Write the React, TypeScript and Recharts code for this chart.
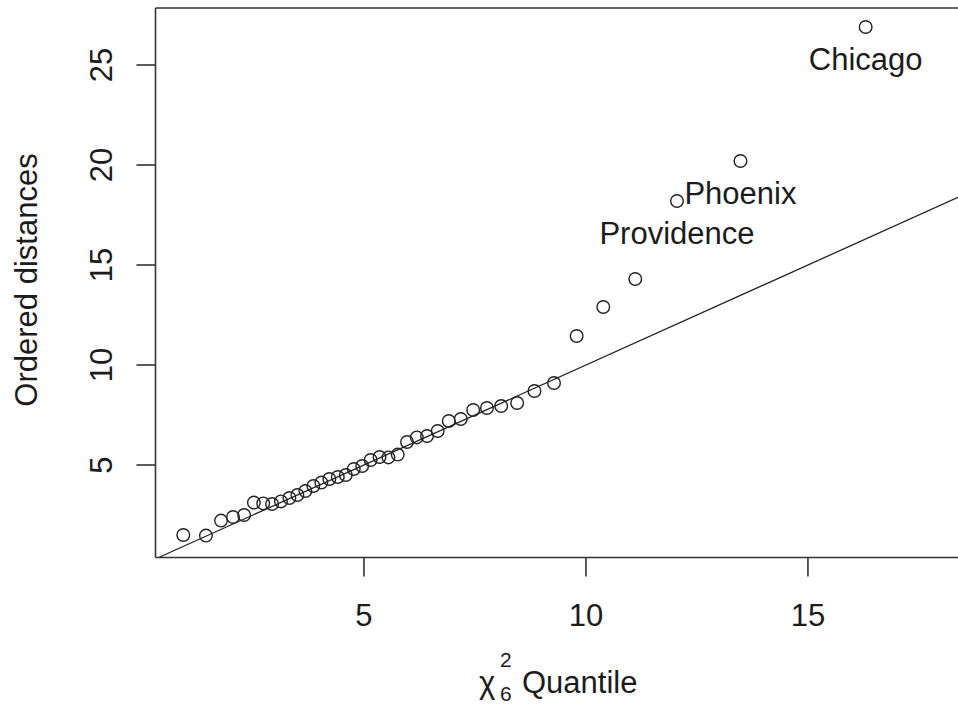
import { ScatterChart, Scatter, XAxis, YAxis, ReferenceLine } from "recharts";

// chi-square (6 df) quantiles vs ordered generalised distances, 41 cities
const QUANTILES = [
  0.93, 1.44, 1.78, 2.05, 2.3, 2.52, 2.73, 2.93, 3.13, 3.32, 3.5, 3.68, 3.86, 4.04,
  4.22, 4.41, 4.59, 4.77, 4.96, 5.15, 5.35, 5.55, 5.76, 5.97, 6.19, 6.42, 6.66, 6.91,
  7.18, 7.46, 7.77, 8.09, 8.45, 8.84, 9.28, 9.79, 10.39, 11.11, 12.05, 13.48, 16.3,
];
const DISTANCES = [
  1.5, 1.47, 2.22, 2.4, 2.5, 3.12, 3.08, 3.05, 3.18, 3.35, 3.5, 3.7, 3.95, 4.12,
  4.3, 4.4, 4.5, 4.8, 4.95, 5.25, 5.4, 5.38, 5.52, 6.15, 6.38, 6.45, 6.7, 7.2,
  7.3, 7.75, 7.85, 7.95, 8.1, 8.7, 9.1, 11.45, 12.9, 14.3, 18.2, 20.2, 26.9,
];
// labels for the three largest distances (drawn under the point)
const OUTLIER_LABELS = ["Providence", "Phoenix", "Chicago"];

const X_TICKS = [5, 10, 15];
const Y_TICKS = [5, 10, 15, 20, 25];
const X_DOMAIN = [0.304, 18.38];
const Y_DOMAIN = [0.375, 27.85];
const ABLINE = { intercept: 0, slope: 1 };

const FONT = "'Liberation Sans', Arial, sans-serif";
const INK = "#1c1c1c";

const data = QUANTILES.map((x, i) => {
  const k = i - (QUANTILES.length - OUTLIER_LABELS.length);
  return { x, y: DISTANCES[i], label: k >= 0 ? OUTLIER_LABELS[k] : null };
});

const x0 = Math.max(X_DOMAIN[0], (Y_DOMAIN[0] - ABLINE.intercept) / ABLINE.slope);
const x1 = X_DOMAIN[1];
const lineSeg = [
  { x: x0, y: ABLINE.intercept + ABLINE.slope * x0 },
  { x: x1, y: ABLINE.intercept + ABLINE.slope * x1 },
];

function OpenCircle(props: any) {
  const { cx, cy, payload } = props;
  return (
    <g>
      <circle cx={cx} cy={cy} r={6.3} fill="none" stroke="#222" strokeWidth={1.4} />
      {payload.label && (
        <text x={cx} y={cy + 43} textAnchor="middle" fontFamily={FONT} fontSize={31} fill={INK}>
          {payload.label}
        </text>
      )}
    </g>
  );
}

function YTick(props: any) {
  const { y, payload } = props;
  return (
    <text
      transform={`translate(112, ${y}) rotate(-90)`}
      textAnchor="middle"
      fontFamily={FONT}
      fontSize={31}
      fill={INK}
    >
      {payload.value}
    </text>
  );
}

function XLabel() {
  return (
    <g fontFamily={FONT} fill={INK}>
      <text x={479} y={693} fontSize={31}>χ</text>
      <text x={500} y={667} fontSize={21}>2</text>
      <text x={500} y={701} fontSize={21}>6</text>
      <text x={522} y={693} fontSize={31}>Quantile</text>
    </g>
  );
}

function YLabel() {
  return (
    <text
      transform="translate(37, 280) rotate(-90)"
      textAnchor="middle"
      fontFamily={FONT}
      fontSize={31}
      fill={INK}
    >
      Ordered distances
    </text>
  );
}

export default function App() {
  return (
    <div style={{ position: "absolute", left: 0, top: 0, width: 958, height: 706, overflow: "hidden", background: "#fff" }}>
      <ScatterChart width={958} height={706} margin={{ top: 8, right: 0, bottom: 0, left: 0 }}>
        <XAxis
          type="number"
          dataKey="x"
          domain={X_DOMAIN}
          allowDataOverflow
          ticks={X_TICKS}
          height={148.5}
          tickSize={19}
          tickMargin={27}
          stroke="#333"
          strokeWidth={1.6}
          tick={{ fontFamily: FONT, fontSize: 31, fill: INK }}
          label={{ content: <XLabel /> }}
        />
        <YAxis
          type="number"
          dataKey="y"
          domain={Y_DOMAIN}
          allowDataOverflow
          ticks={Y_TICKS}
          width={155.5}
          tickSize={19}
          stroke="#333"
          strokeWidth={1.6}
          tick={<YTick />}
          label={{ content: <YLabel /> }}
        />
        <ReferenceLine y={Y_DOMAIN[1]} stroke="#333" strokeWidth={1.6} />
        <ReferenceLine segment={lineSeg} stroke="#222" strokeWidth={1.3} />
        <Scatter data={data} shape={<OpenCircle />} isAnimationActive={false} />
      </ScatterChart>
    </div>
  );
}
